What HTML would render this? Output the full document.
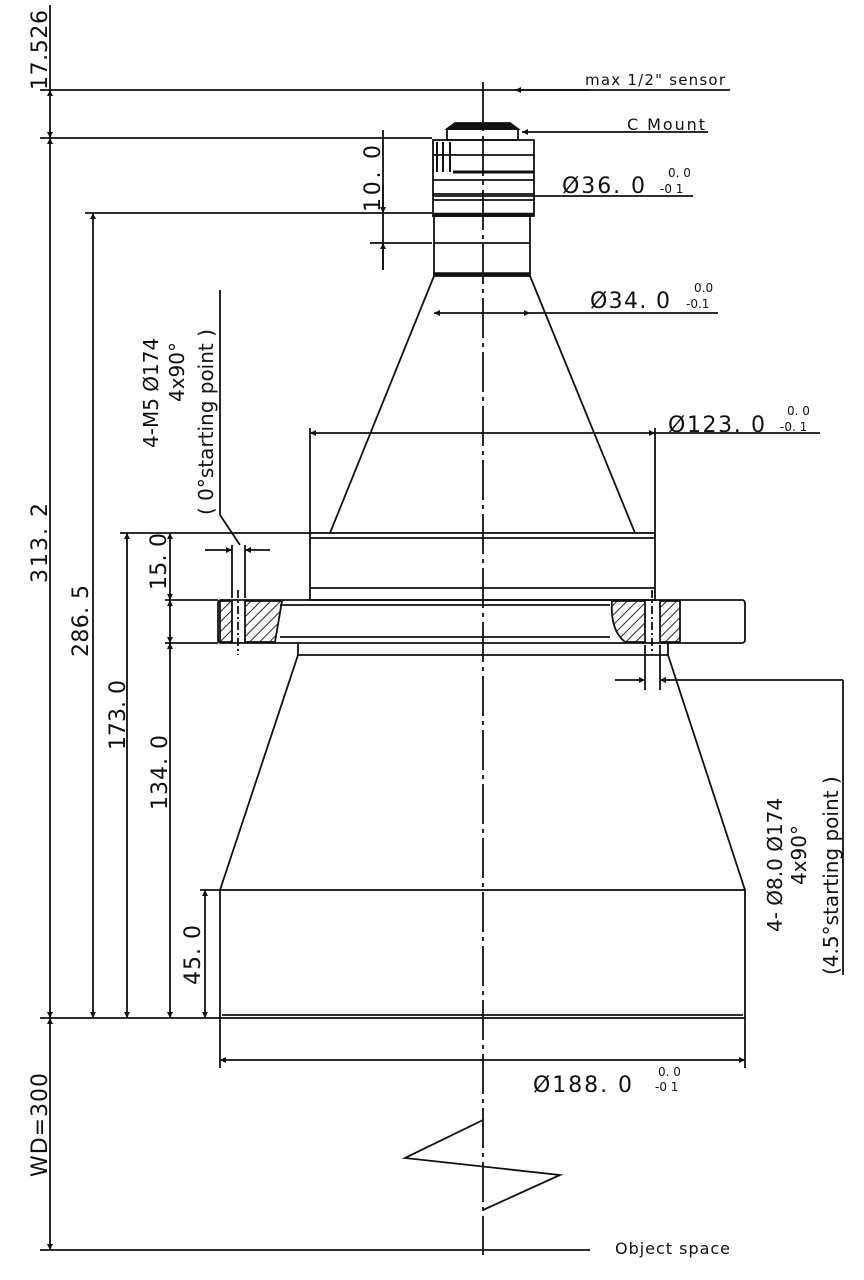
<!DOCTYPE html>
<html><head><style>
body{margin:0;background:#fff}
svg{display:block}
text{font-family:"DejaVu Sans","Liberation Sans",sans-serif;fill:#111}
</style></head><body>
<svg width="864" height="1280" viewBox="0 0 864 1280" xmlns="http://www.w3.org/2000/svg">
<defs>
<marker id="a" viewBox="0 0 10 10" refX="10" refY="5" markerWidth="10" markerHeight="6" orient="auto-start-reverse" markerUnits="userSpaceOnUse"><path d="M0,0L10,5L0,10z" fill="#111"/></marker>
<pattern id="h" width="7" height="7" patternUnits="userSpaceOnUse" patternTransform="rotate(45)"><line x1="0" y1="0" x2="0" y2="7" stroke="#111" stroke-width="1.8"/></pattern>
</defs>
<g stroke="#111" stroke-width="1.8" fill="none">
<line x1="483" y1="82" x2="483" y2="1255" stroke-dasharray="40,5,4,5"/>
<line x1="40" y1="90" x2="730" y2="90"/>
<line x1="40" y1="138" x2="432" y2="138"/>
<line x1="85" y1="213" x2="432" y2="213"/>
<line x1="370" y1="243" x2="432" y2="243"/>
<line x1="120" y1="533" x2="310" y2="533"/>
<line x1="165" y1="600" x2="218" y2="600"/>
<line x1="165" y1="643" x2="218" y2="643"/>
<line x1="200" y1="890" x2="220" y2="890"/>
<line x1="40" y1="1018" x2="220" y2="1018"/>
<line x1="40" y1="1250" x2="590" y2="1250"/>
<line x1="50" y1="90" x2="50" y2="138" marker-start="url(#a)" marker-end="url(#a)"/>
<line x1="50" y1="138" x2="50" y2="1018" marker-start="url(#a)" marker-end="url(#a)"/>
<line x1="50" y1="1018" x2="50" y2="1250" marker-start="url(#a)" marker-end="url(#a)"/>
<line x1="50" y1="5" x2="50" y2="90"/>
<line x1="93" y1="213" x2="93" y2="1018" marker-start="url(#a)" marker-end="url(#a)"/>
<line x1="127" y1="533" x2="127" y2="1018" marker-start="url(#a)" marker-end="url(#a)"/>
<line x1="170" y1="533" x2="170" y2="600" marker-start="url(#a)" marker-end="url(#a)"/>
<line x1="170" y1="643" x2="170" y2="1018" marker-start="url(#a)" marker-end="url(#a)"/>
<line x1="170" y1="600" x2="170" y2="643" marker-start="url(#a)" marker-end="url(#a)"/>
<line x1="205" y1="890" x2="205" y2="1018" marker-start="url(#a)" marker-end="url(#a)"/>
<line x1="383" y1="130" x2="383" y2="270"/>
<line x1="383" y1="185" x2="383" y2="213" marker-end="url(#a)"/>
<line x1="383" y1="270" x2="383" y2="243" marker-end="url(#a)"/>
<path d="M455,123 L510,123 L518,129 L447,129 Z" fill="#111"/>
<rect x="447" y="129" width="71" height="11"/>
<rect x="433" y="140" width="101" height="76"/>
<line x1="433" y1="155" x2="534" y2="155"/>
<line x1="453" y1="172" x2="534" y2="172" stroke-width="3"/>
<line x1="433" y1="180" x2="534" y2="180"/>
<line x1="433" y1="194" x2="534" y2="194"/>
<line x1="433" y1="200" x2="534" y2="200"/>
<line x1="433" y1="214" x2="534" y2="214" stroke-width="2.5"/>
<line x1="437" y1="142" x2="437" y2="172" stroke-width="2"/>
<line x1="443" y1="142" x2="443" y2="172" stroke-width="2"/>
<line x1="450" y1="142" x2="450" y2="172" stroke-width="2"/>
<rect x="434" y="216" width="96" height="60"/>
<line x1="434" y1="243" x2="530" y2="243"/>
<line x1="434" y1="274" x2="530" y2="274" stroke-width="3.5"/>
<line x1="434" y1="276" x2="330" y2="533"/>
<line x1="530" y1="276" x2="635" y2="533"/>
<rect x="310" y="533" width="345" height="67"/>
<line x1="310" y1="538" x2="655" y2="538"/>
<line x1="310" y1="588" x2="655" y2="588"/>
<rect x="218" y="600" width="527" height="43" rx="3"/>
<line x1="280" y1="605" x2="610" y2="605"/>
<line x1="280" y1="637" x2="610" y2="637"/>
<path d="M220,601 L232,601 L232,642 L220,642 Z" fill="url(#h)"/>
<path d="M245,601 L282,601 L275,642 L245,642 Z" fill="url(#h)"/>
<path d="M612,601 L645,601 L645,642 L625,642 Q610,630 612,601 Z" fill="url(#h)"/>
<path d="M660,601 L680,601 L680,642 L660,642 Z" fill="url(#h)"/>
<line x1="238" y1="590" x2="238" y2="655" stroke-dasharray="8,3,2,3"/>
<line x1="652" y1="590" x2="652" y2="655" stroke-dasharray="8,3,2,3"/>
<line x1="232" y1="545" x2="232" y2="598"/><line x1="245" y1="545" x2="245" y2="598"/>
<line x1="645" y1="645" x2="645" y2="690"/><line x1="660" y1="645" x2="660" y2="690"/>
<path d="M298,643 L298,655 L668,655 L668,643"/>
<line x1="298" y1="655" x2="220" y2="890"/>
<line x1="668" y1="655" x2="745" y2="890"/>
<rect x="220" y="890" width="525" height="128"/>
<line x1="222" y1="1015" x2="743" y2="1015"/>
<line x1="433" y1="196" x2="693" y2="196"/>
<line x1="434" y1="313" x2="530" y2="313" marker-start="url(#a)" marker-end="url(#a)"/>
<line x1="530" y1="313" x2="718" y2="313"/>
<line x1="310" y1="433" x2="655" y2="433" marker-start="url(#a)" marker-end="url(#a)"/>
<line x1="655" y1="433" x2="820" y2="433"/>
<line x1="310" y1="428" x2="310" y2="533"/><line x1="655" y1="428" x2="655" y2="533"/>
<line x1="220" y1="1018" x2="220" y2="1068"/><line x1="745" y1="1018" x2="745" y2="1068"/>
<line x1="220" y1="1060" x2="745" y2="1060" marker-start="url(#a)" marker-end="url(#a)"/>
<line x1="205" y1="550" x2="232" y2="550" marker-end="url(#a)"/>
<line x1="270" y1="550" x2="245" y2="550" marker-end="url(#a)"/>
<line x1="615" y1="680" x2="645" y2="680" marker-end="url(#a)"/>
<line x1="843" y1="680" x2="660" y2="680" marker-end="url(#a)"/>
<line x1="843" y1="680" x2="843" y2="975"/>
<line x1="220" y1="290" x2="220" y2="515"/><line x1="220" y1="515" x2="240" y2="545"/>
<line x1="590" y1="90" x2="515" y2="90" marker-end="url(#a)"/>
<line x1="708" y1="132" x2="522" y2="132" marker-end="url(#a)"/>
</g>
<path d="M483,1120 L405,1158 L560,1175 L483,1210" fill="none" stroke="#111" stroke-width="1.8"/>
<text x="585" y="85" font-size="15" textLength="140" lengthAdjust="spacing">max 1/2" sensor</text>
<text x="627" y="130" font-size="16" textLength="78" lengthAdjust="spacing">C Mount</text>
<text x="562" y="193" font-size="22" textLength="83" lengthAdjust="spacing">Ø36. 0</text><text x="668" y="177" font-size="12">0. 0</text><text x="660" y="193" font-size="12">-0 1</text>
<text x="590" y="308" font-size="22" textLength="80" lengthAdjust="spacing">Ø34. 0</text><text x="694" y="292" font-size="12">0.0</text><text x="686" y="308" font-size="12">-0.1</text>
<text x="668" y="432" font-size="22" textLength="97" lengthAdjust="spacing">Ø123. 0</text><text x="787" y="415" font-size="12">0. 0</text><text x="780" y="431" font-size="12">-0. 1</text>
<text x="533" y="1092" font-size="22" textLength="99" lengthAdjust="spacing">Ø188. 0</text><text x="658" y="1076" font-size="12">0. 0</text><text x="655" y="1091" font-size="12">-0 1</text>
<text x="615" y="1254" font-size="16" textLength="115" lengthAdjust="spacing">Object space</text>
<g font-size="22">
<text transform="translate(47,90) rotate(-90)" textLength="80" lengthAdjust="spacing">17.526</text>
<text transform="translate(47,583) rotate(-90)" textLength="80" lengthAdjust="spacing">313. 2</text>
<text transform="translate(88,657) rotate(-90)" textLength="72" lengthAdjust="spacing">286. 5</text>
<text transform="translate(125,750) rotate(-90)" textLength="70" lengthAdjust="spacing">173. 0</text>
<text transform="translate(167,810) rotate(-90)" textLength="75" lengthAdjust="spacing">134. 0</text>
<text transform="translate(166,590) rotate(-90)" textLength="57" lengthAdjust="spacing">15. 0</text>
<text transform="translate(200,985) rotate(-90)" textLength="60" lengthAdjust="spacing">45. 0</text>
<text transform="translate(380,212) rotate(-90)" textLength="67" lengthAdjust="spacing">10. 0</text>
<text transform="translate(47,1177) rotate(-90)" textLength="104" lengthAdjust="spacing">WD=300</text>
</g>
<g font-size="20">
<text transform="translate(158,448) rotate(-90)">4-M5  Ø174</text>
<text transform="translate(184,402) rotate(-90)">4x90°</text>
<text transform="translate(213,515) rotate(-90)">( 0°starting point )</text>
<text transform="translate(782,932) rotate(-90)">4- Ø8.0   Ø174</text>
<text transform="translate(806,885) rotate(-90)">4x90°</text>
<text transform="translate(838,975) rotate(-90)">(4.5°starting point )</text>
</g>
</svg>
</body></html>
